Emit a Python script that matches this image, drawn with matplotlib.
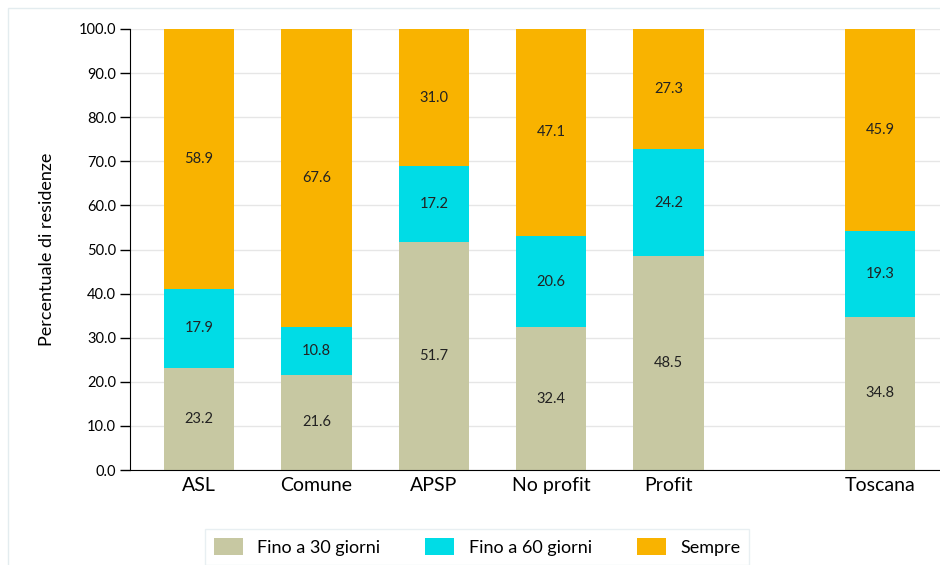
import matplotlib.pyplot as plt
from matplotlib.patches import Rectangle

plt.rcParams['font.family'] = ['Lato', 'DejaVu Sans']

categories = ["ASL", "Comune", "APSP", "No profit", "Profit", "Toscana"]
positions = [0, 1, 2, 3, 4, 5.8]
fino30 = [23.2, 21.6, 51.7, 32.4, 48.5, 34.8]
fino60 = [17.9, 10.8, 17.2, 20.6, 24.2, 19.3]
sempre = [58.9, 67.6, 31.0, 47.1, 27.3, 45.9]

series = [("Fino a 30 giorni", fino30, "#c7c8a2"),
          ("Fino a 60 giorni", fino60, "#00dce6"),
          ("Sempre", sempre, "#f9b300")]

fig = plt.figure(figsize=(9.4, 5.65), dpi=100)
ax = fig.add_axes([130 / 940, 95 / 565, 810 / 940, 441 / 565])

fig.patches.append(Rectangle((8 / 940, -0.1), 1.1, (565 - 8) / 565 + 0.1,
                             transform=fig.transFigure, fill=False,
                             edgecolor="#e3ecef", linewidth=1))

bottom = [0] * len(categories)
for name, vals, color in series:
    bars = ax.bar(positions, vals, width=0.6, bottom=bottom, color=color,
                  label=name, zorder=2)
    for b, v, base in zip(bars, vals, bottom):
        ax.text(b.get_x() + b.get_width() / 2, base + v / 2, f"{v:.1f}",
                ha="center", va="center", fontsize=10.5, color="#222222")
    bottom = [a + b for a, b in zip(bottom, vals)]

ax.set_xlim(-0.587, 6.31)
ax.set_ylim(0, 100)
ax.set_yticks(range(0, 101, 10))
ax.set_yticklabels([f"{t:.1f}" for t in range(0, 101, 10)], fontsize=10.5)
ax.set_xticks(positions)
ax.set_xticklabels(categories, fontsize=14)
ax.tick_params(axis="x", length=0, pad=5)
ax.tick_params(axis="y", length=7, width=1, pad=3)
ax.grid(axis="y", color="#e6e6e6", linewidth=1, zorder=0)
ax.set_axisbelow(True)
for s in ["top", "right"]:
    ax.spines[s].set_visible(False)
ax.spines["left"].set_color("black")
ax.spines["bottom"].set_color("black")
ax.set_ylabel("Percentuale di residenze", fontsize=13, labelpad=17)

leg = fig.legend(loc="center", bbox_to_anchor=(477 / 940, 18 / 565), ncol=3,
                 fontsize=13, frameon=True, fancybox=False, edgecolor="#e3ecef",
                 handlelength=1.6, handleheight=1.1, columnspacing=2.5,
                 borderpad=0.5)
leg.get_frame().set_linewidth(1)

fig.savefig("out.png", dpi=100)
